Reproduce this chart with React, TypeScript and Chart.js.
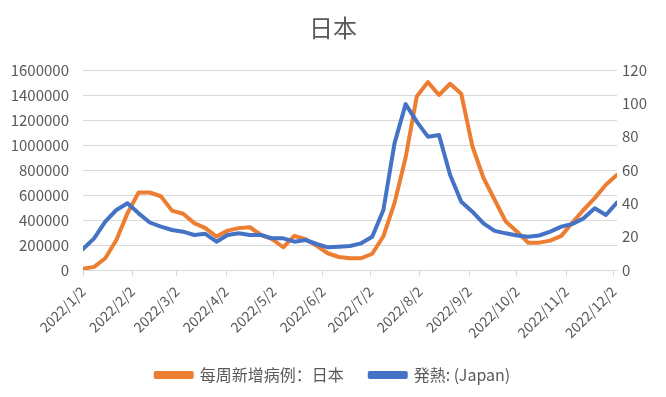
import React, { useEffect, useRef } from "react";
import { Chart, registerables } from "chart.js";

Chart.register(...registerables);

const chartTitle = "日本";
const seriesCasesName = "每周新增病例：日本";
const seriesFeverName = "発熱: (Japan)";

// weekly points starting 2022/1/2, one every 7 days
const firstWeek = "2022/1/2";
const weekStepDays = 7;

const monthTickLabels = [
  "2022/1/2", "2022/2/2", "2022/3/2", "2022/4/2", "2022/5/2", "2022/6/2",
  "2022/7/2", "2022/8/2", "2022/9/2", "2022/10/2", "2022/11/2", "2022/12/2",
];

const weeklyCases = [
  10000, 25000, 94000, 240000, 455000, 620000, 620000, 590000, 475000, 450000,
  375000, 335000, 268000, 315000, 335000, 342000, 280000, 246000, 182000, 273000,
  246000, 193000, 134000, 104000, 94000, 94000, 130000, 270000, 535000, 900000,
  1388000, 1503000, 1400000, 1490000, 1410000, 990000, 736000, 562000, 388000, 308000,
  219000, 219000, 235000, 273000, 380000, 482000, 575000, 682000, 762000,
];

const feverIndex = [
  12.6, 19, 29, 36, 40, 34, 28.5, 26, 24, 23,
  21, 21.7, 17, 21, 22, 21, 21, 19, 19, 17,
  18, 15.6, 13.6, 14, 14.4, 16, 20, 36, 76, 99.5,
  89, 80, 81, 57, 41, 35, 28, 23.5, 22, 20.7,
  20, 20.7, 23, 26, 27.7, 31, 37, 33, 40.5,
];

const leftTicks = { min: 0, max: 1600000, step: 200000 };
const rightTicks = { min: 0, max: 120, step: 20 };

function dayOffset(label: string): number {
  const [y, m, d] = label.split("/").map(Number);
  const [y0, m0, d0] = firstWeek.split("/").map(Number);
  return (Date.UTC(y, m - 1, d) - Date.UTC(y0, m0 - 1, d0)) / 86400000;
}

export default function App() {
  const ref = useRef<HTMLCanvasElement | null>(null);

  useEffect(() => {
    if (!ref.current) return;
    const font = "'Noto Sans CJK SC', 'Noto Sans', sans-serif";
    const textColor = "#595959";
    const gridColor = "#d9d9d9";
    const tickDays = monthTickLabels.map(dayOffset);
    const xs = weeklyCases.map((_, i) => i * weekStepDays);

    const chart = new Chart(ref.current, {
      type: "line",
      data: {
        datasets: [
          {
            label: seriesCasesName,
            data: weeklyCases.map((v, i) => ({ x: xs[i], y: v })),
            borderColor: "#ED7D31",
            backgroundColor: "#ED7D31",
            borderWidth: 4,
            pointRadius: 0,
            tension: 0,
            borderJoinStyle: "round",
            borderCapStyle: "round",
            yAxisID: "y",
            order: 2,
          },
          {
            label: seriesFeverName,
            data: feverIndex.map((v, i) => ({ x: xs[i], y: v })),
            borderColor: "#4472C4",
            backgroundColor: "#4472C4",
            borderWidth: 4,
            pointRadius: 0,
            tension: 0,
            borderJoinStyle: "round",
            borderCapStyle: "round",
            yAxisID: "y1",
            order: 1,
          },
        ],
      },
      options: {
        responsive: false,
        animation: false,
        layout: { padding: { left: 0, right: 0, top: 0, bottom: 4 } },
        plugins: {
          title: {
            display: true,
            text: chartTitle,
            color: textColor,
            font: { family: font, size: 24, weight: "normal" },
            padding: { top: 13.6, bottom: 27.6 },
          },
          legend: {
            position: "bottom",
            labels: {
              color: textColor,
              font: { family: font, size: 16 },
              boxWidth: 36,
              boxHeight: 4,
              padding: 26,
              sort: (a: any, b: any) => a.datasetIndex - b.datasetIndex,
            },
          },
          tooltip: { enabled: false },
        },
        scales: {
          x: {
            type: "linear",
            min: 0,
            max: xs[xs.length - 1],
            afterBuildTicks: (scale: any) => {
              scale.ticks = tickDays.map((v) => ({ value: v }));
            },
            afterFit: (scale: any) => {
              scale.height = 71;
            },
            ticks: {
              autoSkip: false,
              minRotation: 45,
              maxRotation: 45,
              color: textColor,
              font: { family: font, size: 14 },
              padding: 7,
              callback: (value: any) => {
                const idx = tickDays.indexOf(Number(value));
                return idx >= 0 ? monthTickLabels[idx] : "";
              },
            },
            grid: {
              drawOnChartArea: false,
              drawTicks: true,
              tickLength: 6,
              color: gridColor,
            },
            border: { display: true, color: gridColor },
          },
          y: {
            position: "left",
            min: leftTicks.min,
            max: leftTicks.max,
            afterFit: (scale: any) => {
              scale.width = 83;
            },
            ticks: {
              stepSize: leftTicks.step,
              color: textColor,
              font: { family: font, size: 15 },
              padding: 14,
              callback: (v: any) => String(v),
            },
            grid: { color: gridColor, drawTicks: false },
            border: { display: false },
          },
          y1: {
            position: "right",
            min: rightTicks.min,
            max: rightTicks.max,
            afterFit: (scale: any) => {
              scale.width = 49;
            },
            ticks: {
              stepSize: rightTicks.step,
              color: textColor,
              font: { family: font, size: 15 },
              padding: 5,
            },
            grid: { drawOnChartArea: false, drawTicks: false },
            border: { display: false },
          },
        },
      },
    } as any);

    return () => chart.destroy();
  }, []);

  return (
    <div style={{ position: "absolute", left: 0, top: 0, width: 666, height: 397, background: "#fff" }}>
      <canvas ref={ref} width={666} height={397} style={{ display: "block" }} />
    </div>
  );
}
